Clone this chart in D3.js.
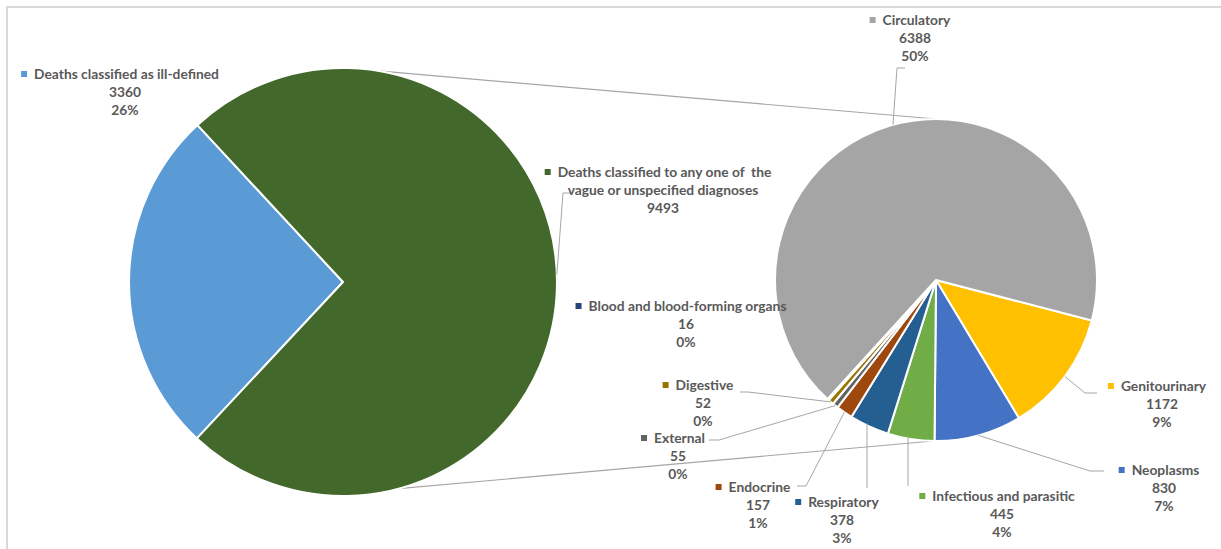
<!DOCTYPE html>
<html>
<head>
<meta charset="utf-8">
<script src="https://cdn.jsdelivr.net/npm/d3@7"></script>
<style>
  html, body { margin: 0; padding: 0; background: #fff; }
  svg { display: block; }
  text { font-family: Lato, "Open Sans", sans-serif; font-weight: 700; fill: #595959; white-space: pre; }
</style>
</head>
<body>
<svg id="chart" width="1221" height="549"></svg>
<script>
// ---- DATA ----
const mainCategories = ["Deaths classified as ill-defined", "Deaths classified to any one of  the vague or unspecified diagnoses"];
const mainValues = [3360, 9493];
const mainPercents = ["26%", ""];

const subCategories = ["Genitourinary", "Neoplasms", "Infectious and parasitic", "Respiratory", "Endocrine", "External", "Digestive", "Blood and blood-forming organs", "Circulatory"];
const subValues = [1172, 830, 445, 378, 157, 55, 52, 16, 6388];
const subPercents = ["9%", "7%", "4%", "3%", "1%", "0%", "0%", "0%", "50%"];

// ---- STYLE / LAYOUT ----
const mainColors = ["#5b9bd5", "#43682b"];
const subColors = ["#ffc000", "#4472c4", "#70ad47", "#255e91", "#9e480e", "#636363", "#997300", "#264478", "#a5a5a5"];
const deg = Math.PI / 180;

const svg = d3.select("#chart");

// frame
svg.append("path").attr("d", "M7,549 V7 H1221").attr("fill", "none").attr("stroke", "#d9d9d9").attr("stroke-width", 2);

const main = { cx: 343, cy: 282, r: 214, start: 223.05 * deg };
const sub = { cx: 936, cy: 280, r: 161, start: 104.6 * deg };

const mainPie = d3.pie().sort(null).startAngle(main.start).endAngle(main.start + 2 * Math.PI)(mainValues);
const subPie = d3.pie().sort(null).startAngle(sub.start).endAngle(sub.start + 2 * Math.PI)(subValues);

const mainArc = d3.arc().innerRadius(0).outerRadius(main.r);
const subArc = d3.arc().innerRadius(0).outerRadius(sub.r);

function polar(p, a, rr) { return [p.cx + Math.sin(a) * (rr ?? p.r), p.cy - Math.cos(a) * (rr ?? p.r)]; }

// connector lines between the pies
const conn = svg.append("g").attr("stroke", "#a6a6a6").attr("stroke-width", 1.2).attr("fill", "none");
conn.append("line")
  .attr("x1", polar(main, 9.5 * deg)[0]).attr("y1", polar(main, 9.5 * deg)[1])
  .attr("x2", polar(sub, 0)[0]).attr("y2", polar(sub, 0)[1]);
conn.append("line")
  .attr("x1", polar(main, 165 * deg)[0]).attr("y1", polar(main, 165 * deg)[1])
  .attr("x2", polar(sub, 181 * deg)[0]).attr("y2", polar(sub, 181 * deg)[1]);

// pies
svg.append("g").attr("transform", `translate(${main.cx},${main.cy})`)
  .selectAll("path").data(mainPie).join("path")
  .attr("d", mainArc).attr("fill", (d, i) => mainColors[i])
  .attr("stroke", "#fff").attr("stroke-width", 2).attr("stroke-linejoin", "round");

svg.append("g").attr("transform", `translate(${sub.cx},${sub.cy})`)
  .selectAll("path").data(subPie).join("path")
  .attr("d", subArc).attr("fill", (d, i) => subColors[i])
  .attr("stroke", "#fff").attr("stroke-width", 2).attr("stroke-linejoin", "round");

// ---- LABELS ----
const mainLabelLayout = [
  { cx: 125, y: 74, lines1: [mainCategories[0]], leader: null },
  { cx: 663, y: 172, lines1: ["Deaths classified to any one of  the", "vague or unspecified diagnoses"],
    leader: { angle: 88, pts: [[563, 193], [571, 193]] } }
];
const subLabelLayout = [
  { cx: 1162, y: 386, leader: { pts: [[1085, 393], [1097, 393]] } },
  { cx: 1164, y: 470, leader: { pts: [[1090, 471], [1104, 471]] } },
  { cx: 1002, y: 496, leader: { pts: [[908, 486]], vertical: true } },
  { cx: 842, y: 502, leader: { pts: [[867, 488]], vertical: true } },
  { cx: 758, y: 487, leader: { pts: [[806, 486], [797, 486]] } },
  { cx: 678, y: 438, leader: { pts: [[719, 440], [709, 440]] } },
  { cx: 703, y: 385, leader: { pts: [[748, 392], [740, 392]] } },
  { cx: 686, y: 306, leader: null },
  { cx: 915, y: 20, leader: { angle: -15.5, pts: [[897, 68], [905, 68]] } }
];

const lineH = 18;
const leaders = svg.append("g").attr("stroke", "#a6a6a6").attr("stroke-width", 1).attr("fill", "none");
const labels = svg.append("g").attr("font-size", "13.8px");

function drawLabel(cx, y, firstLines, rest, color) {
  const g = labels.append("g");
  firstLines.forEach((t, k) => {
    const txt = g.append("text").attr("y", y + k * lineH).attr("dy", "0.35em").text(t);
    const w = txt.node().getComputedTextLength();
    if (k === 0) {
      const blockW = w + 13;
      const left = cx - 5 - blockW / 2;
      g.append("rect").attr("x", left).attr("y", y - 3).attr("width", 6).attr("height", 6).attr("fill", color);
      txt.attr("x", left + 13);
    } else {
      txt.attr("x", cx).attr("text-anchor", "middle");
    }
  });
  rest.forEach((t, k) => {
    if (t === "") return;
    g.append("text").attr("x", cx).attr("y", y + (firstLines.length + k) * lineH)
      .attr("dy", "0.35em").attr("text-anchor", "middle").text(t);
  });
}

mainLabelLayout.forEach((L, i) => {
  drawLabel(L.cx, L.y, L.lines1, [String(mainValues[i]), mainPercents[i]], mainColors[i]);
  if (L.leader) {
    const p0 = polar(main, L.leader.angle * deg);
    leaders.append("path").attr("d", d3.line()([p0, ...L.leader.pts]));
  }
});

subLabelLayout.forEach((L, i) => {
  drawLabel(L.cx, L.y, [subCategories[i]], [String(subValues[i]), subPercents[i]], subColors[i]);
  if (L.leader) {
    const d = subPie[i];
    let mid = L.leader.angle !== undefined ? L.leader.angle * deg : (d.startAngle + d.endAngle) / 2;
    let p0 = polar(sub, mid);
    const pts = L.leader.pts;
    if (L.leader.vertical) { p0 = [pts[0][0], sub.cy + Math.sqrt(sub.r * sub.r - (pts[0][0] - sub.cx) ** 2) - 2]; }
    leaders.append("path").attr("d", d3.line()([p0, ...pts]));
  }
});
</script>
</body>
</html>
